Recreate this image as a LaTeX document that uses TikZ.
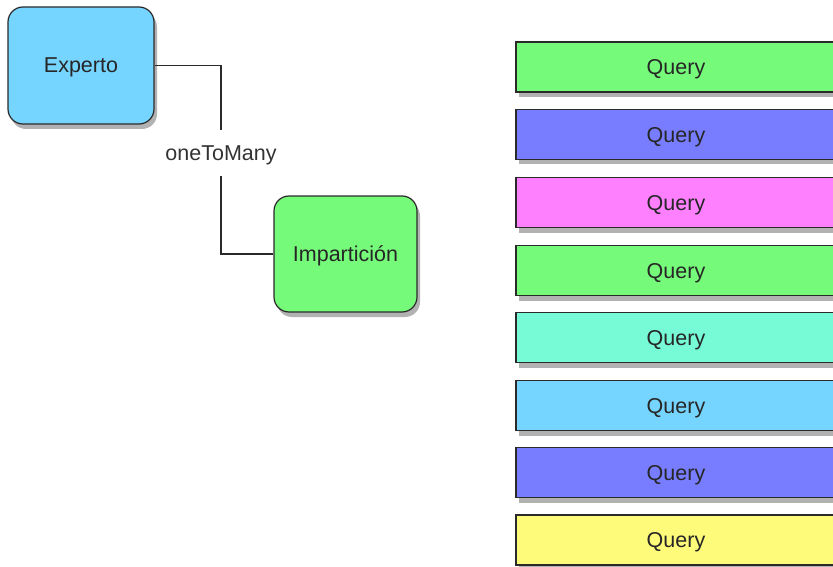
\documentclass[tikz,border=0pt]{standalone}
\usepackage{fontspec}
\setmainfont{Liberation Sans}
\usetikzlibrary{shadows}
\definecolor{cblue}{HTML}{76D5FF}
\definecolor{cgreen}{HTML}{76FA7A}
\definecolor{cviolet}{HTML}{787DFF}
\definecolor{cpink}{HTML}{FF80FF}
\definecolor{caqua}{HTML}{76FBD6}
\definecolor{cyellow}{HTML}{FFFB7A}
\definecolor{cline}{HTML}{2A2A2A}
\begin{document}
\begin{tikzpicture}[x=1pt,y=-1pt,
  box/.style={draw=cline, line width=1.2pt, text=black!85, inner sep=0pt, text depth=0pt,
    font=\fontsize{21.5}{25}\selectfont,
    drop shadow={shadow xshift=3pt, shadow yshift=-5pt, opacity=0.3, fill=black}},
  entity/.style={box, rounded corners=15pt, minimum width=146pt, minimum height=117pt},
  query/.style={box, minimum width=320pt, minimum height=50pt},
  conn/.style={draw=cline, line width=1.1pt}]
\useasboundingbox (0,0) rectangle (833,567);
\clip (0,0) rectangle (833,567);
\fill[white] (0,0) rectangle (833,567);
\node[entity, fill=cblue] (exp) at (81,65.5) {Experto};
\node[entity, fill=cgreen, minimum width=143pt, minimum height=116pt] (imp) at (345.5,254) {Impartición};
\node[fill=white, inner sep=0pt, text depth=0pt, minimum height=46pt, text=black!80, font=\fontsize{21.5}{25}\selectfont] (lbl) at (221,153) {oneToMany};
\draw[conn] (exp.east) -| (lbl.north);
\draw[conn] (lbl.south) |- (imp.west);
\node[query, fill=cgreen]  (q1) at (676,67)    {Query};
\node[query, fill=cviolet] (q2) at (676,134.5) {Query};
\node[query, fill=cpink]   (q3) at (676,202.5) {Query};
\node[query, fill=cgreen]  (q4) at (676,270.5) {Query};
\node[query, fill=caqua]   (q5) at (676,337.5) {Query};
\node[query, fill=cblue]   (q6) at (676,405.5) {Query};
\node[query, fill=cviolet] (q7) at (676,472.5) {Query};
\node[query, fill=cyellow] (q8) at (676,540)   {Query};
\end{tikzpicture}
\end{document}
